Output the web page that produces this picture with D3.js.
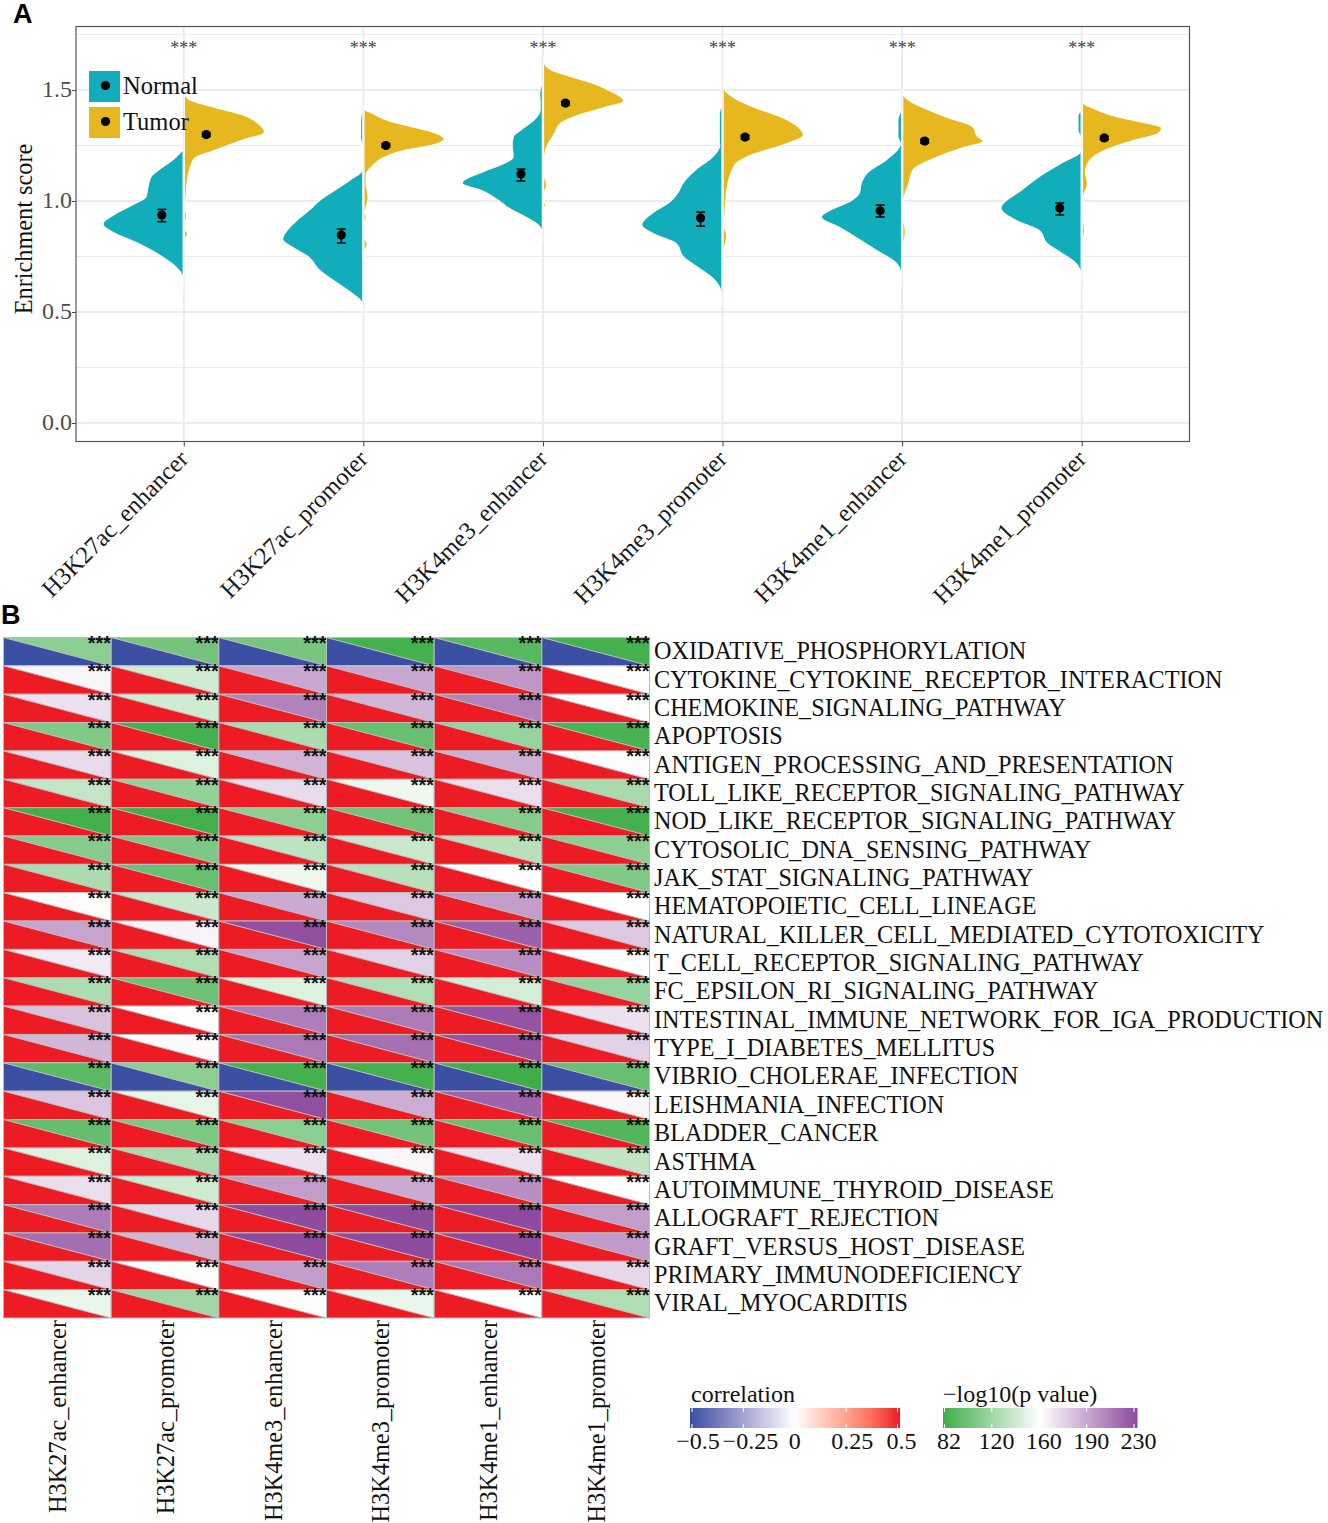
<!DOCTYPE html>
<html><head><meta charset="utf-8">
<script src="https://cdn.jsdelivr.net/npm/d3@7/dist/d3.min.js"></script>
<style>
html,body{margin:0;padding:0;background:#fff}
svg{display:block}
text{font-family:"Liberation Serif",serif}
</style></head><body>
<script>
const marks = ["H3K27ac_enhancer","H3K27ac_promoter","H3K4me3_enhancer","H3K4me3_promoter","H3K4me1_enhancer","H3K4me1_promoter"];
const yTicks = [0,0.5,1,1.5];
const yMinor = [0.25,0.75,1.25,1.75];
const groups = ["Normal","Tumor"];
// [score, density]
const normalDensity = [
 [[1.225,0],[1.185,9],[1.140,23],[1.108,31],[1.063,34],[1.018,36],[.982,49],[.937,68],[.896,79],[.860,69],[.811,44],[.748,19],[.712,8],[.662,0],[.60,0]],
 [[1.40,0],[1.356,1],[1.288,1],[1.25,0],[1.135,0],[1.095,11],[1.050,26],[1.005,41],[.959,52],[.914,64],[.869,74],[.829,79],[.793,69],[.752,54],[.689,42],[.631,24],[.590,11],[.541,0],[.50,0]],
 [[1.52,0],[1.48,1.5],[1.44,1],[1.41,1],[1.365,7],[1.320,20],[1.288,28],[1.252,29],[1.198,28],[1.162,40],[1.131,58],[1.081,79],[1.050,60],[1.005,43],[.968,32],[.928,15],[.901,5],[.869,0],[.81,0]],
 [[1.42,0],[1.387,1.5],[1.261,1.5],[1.252,1],[1.198,8],[1.140,25],[1.086,37],[1.036,43],[.991,52],[.946,68],[.892,79],[.856,68],[.811,45],[.748,37],[.703,23],[.653,8],[.590,0],[.53,0]],
 [[1.40,0],[1.365,2.5],[1.288,2.5],[1.26,0],[1.243,1],[1.185,14],[1.126,33],[1.081,39],[1.036,41],[.995,51],[.959,69],[.928,79],[.883,61],[.833,43],[.779,24],[.725,5],[.680,0],[.62,0]],
 [[1.40,0],[1.387,2],[1.32,2],[1.29,0],[1.221,0],[1.171,18],[1.117,38],[1.050,58],[.968,79],[.914,64],[.869,41],[.811,33],[.766,18],[.721,4],[.680,0],[.62,0]]
];
const tumorDensity = [
 [[1.50,0],[1.477,0],[1.455,4],[1.423,26],[1.383,59],[1.347,73],[1.311,79],[1.275,56],[1.230,29],[1.194,9],[1.140,4],[1.081,1.5],[1.018,.5],[1.0,0],[.955,0],[.932,1],[.91,0],[.87,0],[.85,2],[.83,0],[.78,0]],
 [[1.43,0],[1.410,0],[1.396,6],[1.356,26],[1.333,46],[1.306,69],[1.279,79],[1.252,66],[1.230,39],[1.198,19],[1.162,8],[1.117,1],[1.081,1],[1.050,2],[1.014,3],[.973,1],[.950,0],[.928,1],[.905,0],[.833,0],[.802,2],[.779,0],[.75,0]],
 [[1.64,0],[1.622,0],[1.590,6],[1.559,26],[1.532,46],[1.5,63],[1.450,79],[1.423,60],[1.387,33],[1.351,16],[1.306,10],[1.243,2],[1.194,0],[1.108,0],[1.072,2],[1.041,0],[.991,0],[.982,1],[.973,0],[.90,0]],
 [[1.53,0],[1.509,0],[1.468,8],[1.423,28],[1.378,56],[1.342,71],[1.297,79],[1.261,63],[1.207,26],[1.176,13],[1.140,8],[1.063,3],[.937,.5],[.905,0],[.883,0],[.847,2.5],[.779,0],[.73,0]],
 [[1.50,0],[1.477,0],[1.446,7],[1.410,24],[1.374,44],[1.333,69],[1.288,74],[1.270,79],[1.239,57],[1.194,30],[1.140,9],[1.081,5],[1.005,0],[.914,0],[.860,1.5],[.811,0],[.76,0]],
 [[1.46,0],[1.441,0],[1.410,13],[1.378,33],[1.351,60],[1.329,78],[1.306,75],[1.275,50],[1.221,17],[1.176,5],[1.126,2],[1.081,4],[1.018,0],[.914,0],[.869,1],[.824,0],[.78,0]]
];
const normalMean = [0.937,0.847,1.122,0.923,0.956,0.968];
const normalLow  = [0.907,0.811,1.090,0.887,0.928,0.937];
const normalHigh = [0.962,0.874,1.144,0.950,0.982,0.991];
const tumorMean  = [1.299,1.250,1.441,1.288,1.270,1.284];
const tumorLow   = [1.290,1.242,1.432,1.279,1.261,1.276];
const tumorHigh  = [1.306,1.258,1.448,1.296,1.278,1.292];
const significance = ["***","***","***","***","***","***"];

const pathways = ["OXIDATIVE_PHOSPHORYLATION","CYTOKINE_CYTOKINE_RECEPTOR_INTERACTION","CHEMOKINE_SIGNALING_PATHWAY","APOPTOSIS","ANTIGEN_PROCESSING_AND_PRESENTATION","TOLL_LIKE_RECEPTOR_SIGNALING_PATHWAY","NOD_LIKE_RECEPTOR_SIGNALING_PATHWAY","CYTOSOLIC_DNA_SENSING_PATHWAY","JAK_STAT_SIGNALING_PATHWAY","HEMATOPOIETIC_CELL_LINEAGE","NATURAL_KILLER_CELL_MEDIATED_CYTOTOXICITY","T_CELL_RECEPTOR_SIGNALING_PATHWAY","FC_EPSILON_RI_SIGNALING_PATHWAY","INTESTINAL_IMMUNE_NETWORK_FOR_IGA_PRODUCTION","TYPE_I_DIABETES_MELLITUS","VIBRIO_CHOLERAE_INFECTION","LEISHMANIA_INFECTION","BLADDER_CANCER","ASTHMA","AUTOIMMUNE_THYROID_DISEASE","ALLOGRAFT_REJECTION","GRAFT_VERSUS_HOST_DISEASE","PRIMARY_IMMUNODEFICIENCY","VIRAL_MYOCARDITIS"];
const rowCorrelation = [-0.5,0.5,0.5,0.5,0.5,0.5,0.5,0.5,0.5,0.5,0.5,0.5,0.5,0.5,0.5,-0.5,0.5,0.5,0.5,0.5,0.5,0.5,0.5,0.5];
const logP = [
 [112,103,104,84,92,84],
 [163,140,189,189,196,159],
 [170,140,205,184,205,159],
 [108,84,125,98,117,86],
 [172,146,185,180,187,161],
 [135,115,172,153,171,124],
 [83,83,113,102,110,84],
 [110,107,133,137,130,113],
 [125,98,153,130,160,108],
 [161,138,188,178,193,160],
 [190,164,228,203,220,178],
 [167,127,190,175,200,160],
 [126,100,146,127,142,117],
 [180,159,207,208,226,170],
 [184,162,209,213,226,175],
 [93,113,84,84,82,98],
 [179,150,228,187,219,163],
 [97,106,112,102,98,90],
 [146,125,170,163,170,134],
 [171,140,193,188,200,160],
 [208,173,229,229,230,193],
 [214,184,230,230,230,194],
 [174,158,193,207,209,173],
 [151,121,158,151,159,127]
];
const corTicks = [-0.5,-0.25,0,0.25,0.5];
const corLabels = ["\u22120.5","\u22120.25","0","0.25","0.5"];
const pTicks = [82,120,160,190,230];

const svg = d3.select("body").append("svg").attr("width",1328).attr("height",1523);

/* ---------- Panel A ---------- */
const L=76,R=1189.5,T=26.5,B=441.5;
const y = d3.scaleLinear().domain([0,1]).range([423,201]);
const x = d3.scalePoint().domain(marks).range([L,R]).padding(0.6);
const dens = d3.scaleLinear().domain([0,80]).range([0,80]);
const fillCol = {Normal:"#12ADBB",Tumor:"#E6B71E"};

const grid = svg.append("g").attr("stroke","#ececec").attr("fill","none");
yMinor.forEach(v=>grid.append("line").attr("x1",L).attr("x2",R).attr("y1",y(v)).attr("y2",y(v)).attr("stroke-width",1.2));
yTicks.forEach(v=>grid.append("line").attr("x1",L).attr("x2",R).attr("y1",y(v)).attr("y2",y(v)).attr("stroke-width",2));
marks.forEach(m=>grid.append("line").attr("x1",x(m)).attr("x2",x(m)).attr("y1",T).attr("y2",B).attr("stroke-width",2));

const half = (m,sign,data,col)=>{
  const base = x(m)+sign*1.2;
  const area = d3.area().curve(d3.curveMonotoneY)
     .y(d=>y(d[0])).x0(base).x1(d=>base+sign*dens(d[1]));
  svg.append("path").attr("d",area(data)).attr("fill",col).attr("stroke","#fff").attr("stroke-width",1.6).attr("stroke-linejoin","round");
  svg.append("path").attr("d",area(data)).attr("fill",col);
};
marks.forEach((m,i)=>{
  half(m,-1,normalDensity[i],fillCol.Normal);
  half(m, 1,tumorDensity[i],fillCol.Tumor);
});
const dodge = {Normal:-22,Tumor:22.5};
const pts = (g,mean,low,high)=>marks.forEach((m,i)=>{
  const cx=x(m)+dodge[g];
  const e=svg.append("g").attr("stroke","#000").attr("stroke-width",1.5);
  e.append("line").attr("x1",cx).attr("x2",cx).attr("y1",y(low[i])).attr("y2",y(high[i]));
  [low[i],high[i]].forEach(v=>e.append("line").attr("x1",cx-4.5).attr("x2",cx+4.5).attr("y1",y(v)).attr("y2",y(v)));
  svg.append("circle").attr("cx",cx).attr("cy",y(mean[i])).attr("r",4.6).attr("fill","#000");
});
pts("Normal",normalMean,normalLow,normalHigh);
pts("Tumor",tumorMean,tumorLow,tumorHigh);

svg.append("rect").attr("x",L).attr("y",T).attr("width",R-L).attr("height",B-T).attr("fill","none").attr("stroke","#555").attr("stroke-width",1.2);

const yAxis = d3.axisLeft(y).tickValues(yTicks).tickFormat(d3.format(".1f")).tickSize(4).tickPadding(0);
const gy = svg.append("g").attr("transform",`translate(${L},0)`).call(yAxis);
gy.select(".domain").remove();
gy.selectAll("line").attr("stroke","#444");
gy.selectAll("text").attr("font-size",24).attr("fill","#4d4d4d").attr("font-family","Liberation Serif").attr("transform","translate(0,-1)");
const xAxis = d3.axisBottom(x).tickSize(5).tickFormat("");
const gx = svg.append("g").attr("transform",`translate(0,${B})`).call(xAxis);
gx.select(".domain").remove();
gx.selectAll("line").attr("stroke","#444");
marks.forEach(m=>svg.append("text").attr("transform",`translate(${x(m)-6.5},448) rotate(-45)`)
  .attr("text-anchor","end").attr("dy","0.72em").attr("font-size",24.6).attr("fill","#1a1a1a").text(m));
marks.forEach((m,i)=>svg.append("text").attr("x",x(m)).attr("y",54).attr("text-anchor","middle").attr("font-size",18).attr("fill","#444").text(significance[i]));

svg.append("text").attr("transform","translate(31.5,229) rotate(-90)").attr("text-anchor","middle").attr("font-size",24.3).attr("fill","#111").text("Enrichment score");

groups.forEach((g,i)=>{
  const yy=71+36*i;
  svg.append("rect").attr("x",89).attr("y",yy).attr("width",31).attr("height",31).attr("fill",fillCol[g]);
  svg.append("circle").attr("cx",105.5).attr("cy",yy+14.5).attr("r",4.6).attr("fill","#000");
  svg.append("text").attr("x",123).attr("y",yy+23).attr("font-size",24.5).attr("fill","#111").text(g);
});
const letter=(t,xx,yy)=>svg.append("text").attr("x",xx).attr("y",yy).attr("font-size",27).attr("font-weight","bold").attr("fill","#000").style("font-family","Liberation Sans").text(t);
letter("A",13,23); letter("B",1,624);

/* ---------- Panel B ---------- */
const hx = d3.scaleBand().domain(marks).range([3.5,649.5]);
const hy = d3.scaleBand().domain(pathways).range([637.5,1318]);
const corColor = d3.scaleLinear().domain([-0.5,0,0.5]).range(["#3B4FA3","#ffffff","#ED1C24"]).interpolate(d3.interpolateLab);
const pColor = d3.scaleLinear().domain(pTicks).range(["#3FAE49","#9FD6A4","#ffffff","#C6A4CE","#8E4A9E"]);
const cellStroke="#bdbdbd";
pathways.forEach((p,r)=>{
  marks.forEach((m,c)=>{
    const x0=hx(m),x1=x0+hx.bandwidth(),y0=hy(p),y1=y0+hy.bandwidth();
    const tri=a=>a.map(q=>q.join(",")).join(" ");
    svg.append("polygon").attr("points",tri([[x0,y0],[x1,y0],[x1,y1]])).attr("fill",pColor(logP[r][c]));
    svg.append("polygon").attr("points",tri([[x0,y0],[x1,y1],[x0,y1]])).attr("fill",corColor(rowCorrelation[r]));
    svg.append("line").attr("x1",x0).attr("y1",y0).attr("x2",x1).attr("y2",y1).attr("stroke",cellStroke).attr("stroke-width",1);
    svg.append("rect").attr("x",x0).attr("y",y0).attr("width",hx.bandwidth()).attr("height",hy.bandwidth()).attr("fill","none").attr("stroke",cellStroke).attr("stroke-width",1);
    svg.append("text").attr("x",x1).attr("y",y0+12.5).attr("text-anchor","end").attr("font-size",20).attr("font-weight","bold").attr("fill","#111").style("font-family","Liberation Sans").text("***");
  });
  svg.append("text").attr("x",654).attr("y",hy(p)+hy.bandwidth()/2+7.5).attr("font-size",24.2).attr("fill","#111").text(p);
});
marks.forEach(m=>svg.append("text").attr("transform",`translate(${hx(m)+hx.bandwidth()/2+9},1320) rotate(-90)`)
  .attr("text-anchor","end").attr("font-size",24.3).attr("fill","#111").text(m));

/* ---------- Legends ---------- */
const defs=svg.append("defs");
const grad=(id,scale,vals,pos)=>{
  const g=defs.append("linearGradient").attr("id",id);
  vals.forEach((v,i)=>g.append("stop").attr("offset",pos[i]).attr("stop-color",scale(v)));
};
// correlation
const corX=d3.scaleLinear().domain([-0.5,0.5]).range([692,897.5]);
grad("gc",corColor,[-0.5,-0.375,-0.25,-0.125,0,0.125,0.25,0.375,0.5],[0,.125,.25,.375,.5,.625,.75,.875,1]);
svg.append("text").attr("x",691).attr("y",1402).attr("font-size",24).attr("fill","#111").text("correlation");
svg.append("rect").attr("x",690).attr("y",1408).attr("width",210).attr("height",20).attr("fill","url(#gc)");
const corOffset=[6,7,0,6,4];
corTicks.forEach((v,i)=>{
  [[1408,1412],[1424,1428]].forEach(s=>svg.append("line").attr("x1",corX(v)).attr("x2",corX(v)).attr("y1",s[0]).attr("y2",s[1]).attr("stroke","#fff").attr("stroke-width",1));
  svg.append("text").attr("x",corX(v)+corOffset[i]).attr("y",1449).attr("text-anchor","middle").attr("font-size",24).attr("fill","#111").text(corLabels[i]);
});
// p value
const pX=d3.scalePoint().domain(pTicks).range([944.5,1134]);
grad("gp",pColor,pTicks,[0,0.25,0.5,0.75,1]);
svg.append("text").attr("x",943).attr("y",1402).attr("font-size",24).attr("fill","#111").text("\u2212log10(p value)");
svg.append("rect").attr("x",943).attr("y",1408).attr("width",194.5).attr("height",20).attr("fill","url(#gp)");
pTicks.forEach(v=>{
  [[1408,1412],[1424,1428]].forEach(s=>svg.append("line").attr("x1",pX(v)).attr("x2",pX(v)).attr("y1",s[0]).attr("y2",s[1]).attr("stroke","#fff").attr("stroke-width",1));
  svg.append("text").attr("x",pX(v)+4.5).attr("y",1449).attr("text-anchor","middle").attr("font-size",24).attr("fill","#111").text(v);
});
</script>
</body></html>
